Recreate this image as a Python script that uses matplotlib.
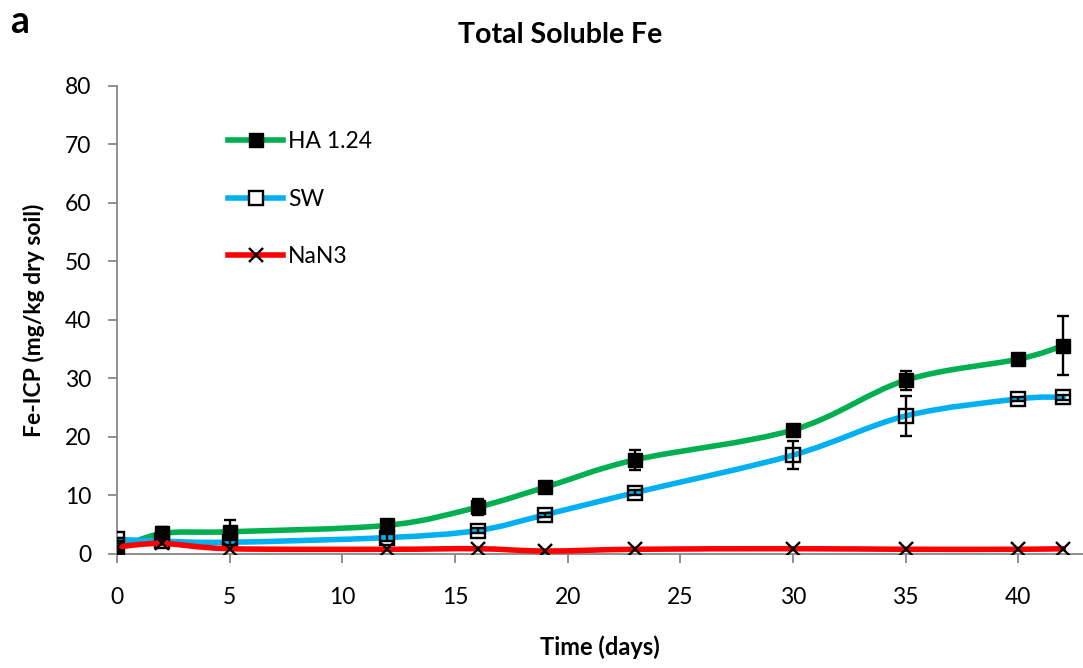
import numpy as np
import matplotlib
matplotlib.use("Agg")
import matplotlib.pyplot as plt
from matplotlib.path import Path
from matplotlib.patches import PathPatch
from matplotlib.lines import Line2D

plt.rcParams['font.family'] = ['Lato', 'DejaVu Sans']

# Sampling days and soluble Fe (mg/kg dry soil)
days = [0, 2, 5, 12, 16, 19, 23, 30, 35, 40, 42]
ha_fe = [0.8, 3.5, 3.8, 4.9, 8.0, 11.4, 16.1, 21.2, 29.7, 33.3, 35.6]
ha_err = [0.3, 1.1, 2.0, 0.5, 1.4, 0.4, 1.7, 0.9, 1.6, 0.6, 5.0]
sw_fe = [2.5, 2.2, 2.0, 2.8, 4.0, 6.7, 10.5, 16.9, 23.6, 26.5, 26.8]
sw_err = [0.3, 0.3, 0.4, 0.6, 0.5, 0.3, 0.5, 2.4, 3.4, 0.4, 0.4]
nan3_fe = [1.2, 1.8, 0.9, 0.8, 0.9, 0.5, 0.8, 0.9, 0.8, 0.8, 0.9]

series_names = ['HA 1.24', 'SW', 'NaN3']
line_colors = ['#00B050', '#00B0F0', '#FF0000']

x_ticks = [0, 5, 10, 15, 20, 25, 30, 35, 40]
y_ticks = [0, 10, 20, 30, 40, 50, 60, 70, 80]


def smooth_path(x, y):
    """Cubic Bezier path through the points (spreadsheet-style smoothed line)."""
    pts = np.column_stack([x, y]).astype(float)
    n = len(pts)
    verts = [pts[0]]
    codes = [Path.MOVETO]
    for i in range(n - 1):
        p0 = pts[max(i - 1, 0)]
        p1 = pts[i]
        p2 = pts[i + 1]
        p3 = pts[min(i + 2, n - 1)]
        c1 = p1 + (p2 - p0) / 6.0
        c2 = p2 - (p3 - p1) / 6.0
        verts += [c1, c2, p2]
        codes += [Path.CURVE4] * 3
    return Path(verts, codes)


fig = plt.figure(figsize=(10.83, 6.68), dpi=100)
ax = fig.add_axes([0.108, 0.1707, 0.892, 0.7006])

gray = '#878787'
lw = 4.0
ms = 9.5
tick_fs = 16.5

data = [
    (ha_fe, ha_err, dict(marker='s', mfc='black', mec='black')),
    (sw_fe, sw_err, dict(marker='s', mfc='none', mec='black', mew=1.7)),
    (nan3_fe, None, dict(marker='x', mfc='black', mec='black', mew=1.7)),
]

z = 2
for (vals, err, mstyle), color in zip(data, line_colors):
    patch = PathPatch(smooth_path(days, vals), facecolor='none',
                      edgecolor=color, lw=lw, capstyle='round', zorder=z)
    ax.add_patch(patch)
    if err is not None:
        ax.errorbar(days, vals, yerr=err, fmt='none', ecolor='black',
                    elinewidth=1.7, capsize=4.5, capthick=1.7, zorder=z + 0.5)
    ax.plot(days, vals, linestyle='none', ms=ms, zorder=z + 1, **mstyle)
    z += 2

ax.set_xlim(0, 42.87)
ax.set_ylim(0, 80)
ax.set_xticks(x_ticks)
ax.set_yticks(y_ticks)

for side in ['top', 'right']:
    ax.spines[side].set_visible(False)
for side in ['left', 'bottom']:
    ax.spines[side].set_color(gray)
    ax.spines[side].set_linewidth(1.3)
ax.tick_params(axis='both', colors=gray, labelcolor='black', labelsize=tick_fs,
               length=6.5, width=1.3, direction='out')
ax.tick_params(axis='x', pad=17)
ax.tick_params(axis='y', pad=12)

ax.set_xlabel('Time (days)', fontsize=17, fontweight='bold', labelpad=20)
ax.set_ylabel('Fe-ICP (mg/kg dry soil)', fontsize=16.5, fontweight='bold',
              labelpad=14)
fig.text(0.517, 0.948, 'Total Soluble Fe', ha='center', va='center',
         fontsize=20.5, fontweight='bold')
fig.text(0.009, 0.967, 'a', ha='left', va='center', fontsize=27,
         fontweight='bold')

handles = [
    Line2D([], [], color=line_colors[0], lw=lw, marker='s', mfc='black',
           mec='black', ms=ms),
    Line2D([], [], color=line_colors[1], lw=lw, marker='s', mfc='white',
           mec='black', mew=1.7, ms=ms),
    Line2D([], [], color=line_colors[2], lw=lw, marker='x', mfc='black',
           mec='black', mew=1.7, ms=ms),
]
ax.legend(handles, series_names, loc='upper left',
          bbox_to_anchor=(0.115, 0.903), frameon=False, fontsize=tick_fs,
          handlelength=2.4, handletextpad=0.22, labelspacing=1.59,
          borderpad=0, borderaxespad=0)

fig.savefig('out.png', dpi=100)
